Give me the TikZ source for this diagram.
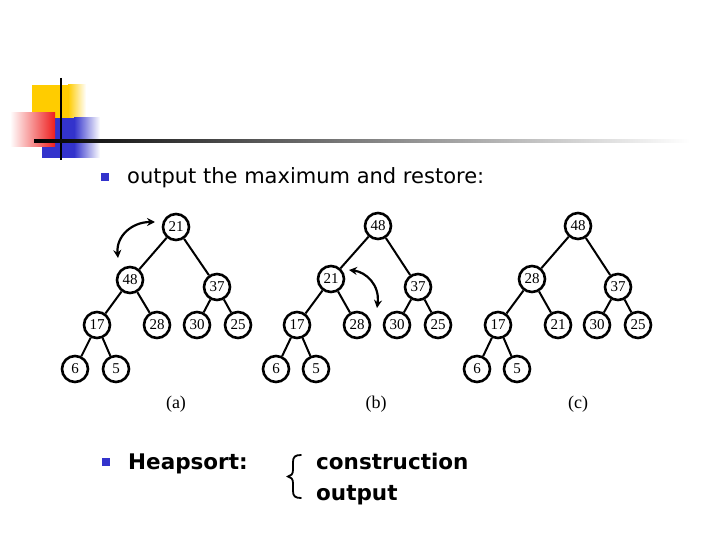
\documentclass[tikz,border=0pt]{standalone}
\usepackage{fontspec}
\setmainfont{DejaVu Sans}
\newfontfamily\numfont{Liberation Serif}
\usetikzlibrary{arrows.meta}
\definecolor{bulletblue}{RGB}{51,51,204}
\definecolor{hdryellow}{RGB}{255,204,0}
\definecolor{hdrred}{RGB}{238,30,30}
\definecolor{hdrblue}{RGB}{51,51,204}
\tikzset{
  hnode/.style={circle, draw=black, line width=2.6pt, fill=white, minimum size=26pt, inner sep=0pt, font=\numfont\fontsize{15}{17}\selectfont},
  hedge/.style={line width=2pt},
  swaparrow/.style={{Stealth[length=8pt,width=8pt]}-{Stealth[length=8pt,width=8pt]}, line width=2.2pt},
  slidetext/.style={anchor=base west, inner sep=0pt, font=\fontsize{21}{25}\selectfont},
  boldtext/.style={anchor=base west, inner sep=0pt, font=\bfseries\fontsize{21.5}{25}\selectfont},
  sublabel/.style={inner sep=0pt, font=\numfont\fontsize{18}{20}\selectfont}
}
\begin{document}
\begin{tikzpicture}[x=1pt,y=-1pt]
\useasboundingbox (0,0) rectangle (720,540);
% header decoration
\fill[hdryellow] (32,85) rectangle (68,120);
\shade[left color=hdryellow, right color=white] (68,85) rectangle (86,120);
\fill[hdrblue] (42,118) rectangle (74,158);
\shade[left color=hdrblue, right color=white] (74,118) rectangle (100,158);
\shade[left color=white, right color=hdrred] (10,113) rectangle (55,147);
\draw[line width=2.5pt] (61,78) -- (61,160);
\shade[left color=black, middle color=black!30, right color=white] (34,139.5) rectangle (690,142.5);
% bullets and text
\fill[bulletblue] (101,173) rectangle (109,181);
\node[slidetext] (t1) at (127,184) {output the maximum and restore:};
\fill[bulletblue] (102,458) rectangle (110,466);
\node[boldtext] (t2) at (128,469) {Heapsort:};
\node[boldtext] (t3) at (316,469) {construction};
\node[boldtext] (t4) at (316,500) {output};
\draw[line width=1.8pt, line cap=round] (301,455) .. controls (295,455) and (293,457) .. (293,462)
  -- (293,470) .. controls (293,474) and (291,476) .. (288,476.5)
  .. controls (291,477) and (293,479) .. (293,483)
  -- (293,491) .. controls (293,496) and (295,498) .. (301,498);
% tree (a)
\node[hnode] (a21) at (176,227) {21};
\node[hnode] (a48) at (130,280) {48};
\node[hnode] (a37) at (217,287) {37};
\node[hnode] (a17) at (97,325) {17};
\node[hnode] (a28) at (157,325) {28};
\node[hnode] (a30) at (197,325) {30};
\node[hnode] (a25) at (238,325) {25};
\node[hnode] (a6) at (75,369) {6};
\node[hnode] (a5) at (116,369) {5};
\draw[hedge] (a21) -- (a48); \draw[hedge] (a21) -- (a37);
\draw[hedge] (a48) -- (a17); \draw[hedge] (a48) -- (a28);
\draw[hedge] (a37) -- (a30); \draw[hedge] (a37) -- (a25);
\draw[hedge] (a17) -- (a6); \draw[hedge] (a17) -- (a5);
\coordinate (aa1) at (118,258);
\coordinate (aa2) at (155,222);
\draw[swaparrow] (aa1) .. controls (116,236) and (132,222) .. (aa2);
\node[sublabel] (la) at (176,404) {(a)};
% tree (b)
\node[hnode] (b48) at (378,226) {48};
\node[hnode] (b21) at (331,279) {21};
\node[hnode] (b37) at (418,287) {37};
\node[hnode] (b17) at (297,325) {17};
\node[hnode] (b28) at (357,325) {28};
\node[hnode] (b30) at (397,325) {30};
\node[hnode] (b25) at (438,325) {25};
\node[hnode] (b6) at (276,369) {6};
\node[hnode] (b5) at (316,369) {5};
\draw[hedge] (b48) -- (b21); \draw[hedge] (b48) -- (b37);
\draw[hedge] (b21) -- (b17); \draw[hedge] (b21) -- (b28);
\draw[hedge] (b37) -- (b30); \draw[hedge] (b37) -- (b25);
\draw[hedge] (b17) -- (b6); \draw[hedge] (b17) -- (b5);
\coordinate (ba1) at (349,270);
\coordinate (ba2) at (377,308);
\draw[swaparrow] (ba1) .. controls (366,272) and (380,285) .. (ba2);
\node[sublabel] (lb) at (376,404) {(b)};
% tree (c)
\node[hnode] (c48) at (578,226) {48};
\node[hnode] (c28) at (532,279) {28};
\node[hnode] (c37) at (618,287) {37};
\node[hnode] (c17) at (498,325) {17};
\node[hnode] (c21) at (558,325) {21};
\node[hnode] (c30) at (597,325) {30};
\node[hnode] (c25) at (638,325) {25};
\node[hnode] (c6) at (477,369) {6};
\node[hnode] (c5) at (517,369) {5};
\draw[hedge] (c48) -- (c28); \draw[hedge] (c48) -- (c37);
\draw[hedge] (c28) -- (c17); \draw[hedge] (c28) -- (c21);
\draw[hedge] (c37) -- (c30); \draw[hedge] (c37) -- (c25);
\draw[hedge] (c17) -- (c6); \draw[hedge] (c17) -- (c5);
\node[sublabel] (lc) at (578,404) {(c)};
\end{tikzpicture}
\end{document}
